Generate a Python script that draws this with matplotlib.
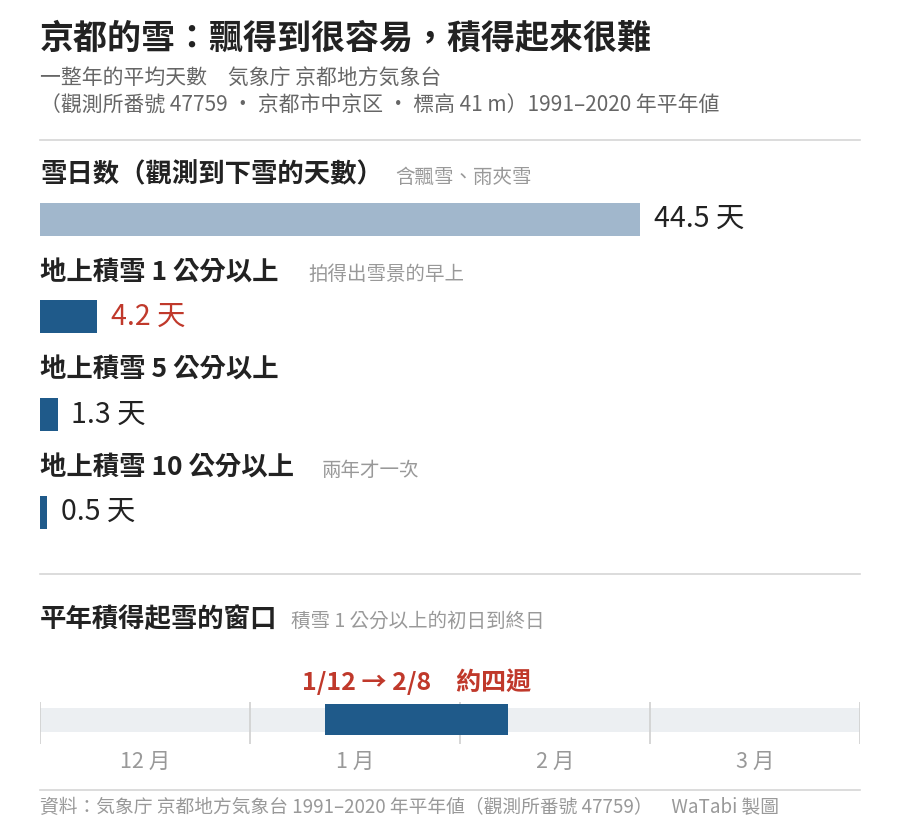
import matplotlib.pyplot as plt
from matplotlib.transforms import blended_transform_factory

plt.rcParams["font.family"] = ["Noto Sans CJK TC", "DejaVu Sans"]

# data
categories = ["雪日数（觀測到下雪的天數）", "地上積雪 1 公分以上", "地上積雪 5 公分以上", "地上積雪 10 公分以上"]
notes = ["含飄雪、雨夾雪", "拍得出雪景的早上", "", "兩年才一次"]
days = [44.5, 4.2, 1.3, 0.5]
value_labels = ["44.5 天", "4.2 天", "1.3 天", "0.5 天"]

months = ["12 月", "1 月", "2 月", "3 月"]
month_lengths = [31, 31, 28, 31]
window_start = (1, 12)   # month, day
window_end = (2, 8)
window_label = "1/12 → 2/8　約四週"

W, H = 900, 840
DARK = "#1f5a8a"
LIGHT = "#a1b7cc"
RED = "#c0392b"
INK = "#222222"
GREY = "#666666"
FAINT = "#999999"
RULE = "#d6d6d6"

fig = plt.figure(figsize=(W / 100, H / 100), dpi=100)


def fx(px):
    return px / W


def fy(py):
    return 1 - py / H


def text(x, y, s, **kw):
    kw.setdefault("va", "center")
    kw.setdefault("ha", "left")
    fig.text(fx(x), fy(y), s, **kw)


def rule(y):
    fig.add_artist(plt.Line2D([fx(40), fx(860)], [fy(y), fy(y)], color=RULE, lw=1.2))


# header
text(40, 38, "京都的雪：飄得到很容易，積得起來很難", fontsize=24.5, weight="bold", color=INK)
text(40, 78, "一整年的平均天數　気象庁 京都地方気象台", fontsize=15, color=GREY)
text(40, 106, "（觀測所番號 47759 ・ 京都市中京区 ・ 標高 41 m）1991–2020 年平年値", fontsize=15, color=GREY)
rule(140)

# bar section
row_gap = 97.7
first_row = 219
ax = fig.add_axes([fx(40), fy(first_row + 3.5 * row_gap), fx(600), (4 * row_gap) / H])
colors = [LIGHT, DARK, DARK, DARK]
label_colors = [INK, RED, INK, INK]
rows = list(range(len(days)))
ax.barh(rows, days, height=33 / row_gap, color=colors, left=0)
ax.set_xlim(0, days[0])
ax.set_ylim(len(days) - 0.5, -0.5)
ax.axis("off")
for i, (v, lab) in enumerate(zip(days, value_labels)):
    ax.annotate(lab, (v, i), xytext=(10, 0), textcoords="offset points",
                va="center", ha="left", fontsize=20.5, color=label_colors[i],
                annotation_clip=False)

note_x = [395, 308, 0, 322]
for i, (cat, note) in enumerate(zip(categories, notes)):
    yc = first_row + i * row_gap - 44
    text(40, yc, cat, fontsize=19, weight="bold", color=INK)
    if note:
        text(note_x[i], yc + 2, note, fontsize=14, color=FAINT)

rule(574)

# timeline section
text(40, 619, "平年積得起雪的窗口", fontsize=19, weight="bold", color=INK)
text(291, 621, "積雪 1 公分以上的初日到終日", fontsize=14, color=FAINT)

total = sum(month_lengths)
starts = [sum(month_lengths[:i]) for i in range(len(month_lengths))]


def day_index(md):
    m, d = md
    order = [12, 1, 2, 3]
    return starts[order.index(m)] + d - 1


w0, w1 = day_index(window_start), day_index(window_end)

tax = fig.add_axes([fx(40), fy(750), fx(820), 60 / H])
tax.set_xlim(0, total)
tax.set_ylim(60, 0)
tax.axis("off")
tax.barh(30, total, left=0, height=24, color="#eceff2", zorder=1)
tax.vlines(starts + [total], 12, 54, color="#d0d0d0", lw=1.2, zorder=2)
tax.barh(29.5, w1 - w0, left=w0, height=31, color=DARK, zorder=3)

trans = blended_transform_factory(tax.transData, fig.transFigure)
for m, s, n in zip(months, starts, month_lengths):
    tax.text(s + n / 2, fy(762), m, transform=trans, ha="center", va="center",
             fontsize=15.5, color=FAINT)
tax.text((w0 + w1) / 2, fy(682), window_label, transform=trans, ha="center",
         va="center", fontsize=18, weight="bold", color=RED)

rule(790)
text(40, 808, "資料：気象庁 京都地方気象台 1991–2020 年平年値（觀測所番號 47759）　WaTabi 製圖",
     fontsize=13.5, color=FAINT)

fig.savefig("out.png", dpi=100, facecolor="white")
